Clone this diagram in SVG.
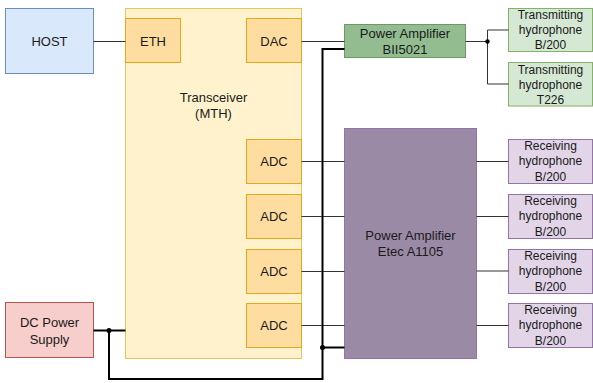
<svg xmlns="http://www.w3.org/2000/svg" width="593" height="383" viewBox="0 0 593 383">
<style>
text{font-family:"Liberation Sans",Arial,sans-serif;fill:#1a1a1a;text-anchor:middle;dominant-baseline:central}
.t13{font-size:13px}
.t12{font-size:12px}
.host{fill:#dae8fc;stroke:#6c8ebf}
.trx{fill:#fff2cc;stroke:#e6c55f}
.port{fill:#ffdda1;stroke:#e3a81c}
.pag{fill:#93bd91;stroke:#6d9a64}
.pap{fill:#9b8aa6;stroke:#9673a6}
.th{fill:#d5e8d4;stroke:#82b366}
.rh{fill:#e1d5e7;stroke:#9673a6}
.dc{fill:#f8cecc;stroke:#b85450}
.sig{fill:none;stroke:#333;stroke-width:1}
.pwr{fill:none;stroke:#000;stroke-width:2}
rect{stroke-width:1}
</style>
<g id="transceiver"><rect class="trx" x="125.5" y="8.5" width="176" height="350"/><text class="t13" x="213.5" y="97">Transceiver</text><text class="t13" x="213.5" y="113">(MTH)</text></g>
<g id="host"><rect class="host" x="5.5" y="8.5" width="88" height="65"/><text class="t13" x="49.5" y="41">HOST</text></g>
<g id="eth"><rect class="port" x="125.5" y="18.5" width="55" height="44"/><text class="t13" x="153" y="41">ETH</text></g>
<g id="dac"><rect class="port" x="246.5" y="18.5" width="55" height="44"/><text class="t13" x="274" y="41">DAC</text></g>
<g id="adc1"><rect class="port" x="246.5" y="139.5" width="55" height="44"/><text class="t13" x="274" y="161.5">ADC</text></g>
<g id="adc2"><rect class="port" x="246.5" y="194.5" width="55" height="44"/><text class="t13" x="274" y="216.5">ADC</text></g>
<g id="adc3"><rect class="port" x="246.5" y="249.5" width="55" height="44"/><text class="t13" x="274" y="271.5">ADC</text></g>
<g id="adc4"><rect class="port" x="246.5" y="303.5" width="55" height="44"/><text class="t13" x="274" y="325.5">ADC</text></g>
<g id="pa-bii"><rect class="pag" x="344.5" y="24.5" width="121" height="33"/><text class="t13" x="405" y="33">Power Amplifier</text><text class="t13" x="405" y="49.5">BII5021</text></g>
<g id="pa-etec"><rect class="pap" x="344.5" y="128.5" width="132" height="230"/><text class="t13" x="410.5" y="235.5">Power Amplifier</text><text class="t13" x="410.5" y="251.5">Etec A1105</text></g>
<g id="th1"><rect class="th" x="508.5" y="8.5" width="84" height="43"/><text class="t12" x="550.5" y="15">Transmitting</text><text class="t12" x="550.5" y="30">hydrophone</text><text class="t12" x="550.5" y="45">B/200</text></g>
<g id="th2"><rect class="th" x="508.5" y="62.5" width="84" height="43.5"/><text class="t12" x="550.5" y="69.5">Transmitting</text><text class="t12" x="550.5" y="84.5">hydrophone</text><text class="t12" x="550.5" y="99.5">T226</text></g>
<g id="rh1"><rect class="rh" x="508.5" y="139.5" width="84" height="44"/><text class="t12" x="550.5" y="146">Receiving</text><text class="t12" x="550.5" y="161">hydrophone</text><text class="t12" x="550.5" y="176.5">B/200</text></g>
<g id="rh2"><rect class="rh" x="508.5" y="194.5" width="84" height="44"/><text class="t12" x="550.5" y="201">Receiving</text><text class="t12" x="550.5" y="216">hydrophone</text><text class="t12" x="550.5" y="231.5">B/200</text></g>
<g id="rh3"><rect class="rh" x="508.5" y="249.5" width="84" height="44"/><text class="t12" x="550.5" y="256">Receiving</text><text class="t12" x="550.5" y="271">hydrophone</text><text class="t12" x="550.5" y="286.5">B/200</text></g>
<g id="rh4"><rect class="rh" x="508.5" y="303.5" width="84" height="44"/><text class="t12" x="550.5" y="310">Receiving</text><text class="t12" x="550.5" y="325">hydrophone</text><text class="t12" x="550.5" y="340.5">B/200</text></g>
<g id="dc"><rect class="dc" x="5.5" y="302.5" width="88" height="55"/><text class="t13" x="49.5" y="322">DC Power</text><text class="t13" x="49.5" y="339">Supply</text></g>
<g id="connectors">
<path class="sig" d="M93.5 41.5H125.5"/>
<path class="sig" d="M301.5 41.5H344.5"/>
<path class="sig" d="M465.5 41.5H487.5M487.5 30H508.5M487.5 30V84H508.5"/>
<circle cx="487.5" cy="41.5" r="2.2" fill="#000"/>
<path class="sig" d="M301.5 161.5H344.5M301.5 216.5H344.5M301.5 271.5H344.5M301.5 325.5H344.5"/>
<path class="sig" d="M476.5 161.5H508.5M476.5 216.5H508.5M476.5 271H508.5M476.5 325.5H508.5"/>
<path class="pwr" d="M93.5 330.5H125.5"/>
<path class="pwr" d="M109 330.5V379H322.5V49H344.5"/>
<path class="pwr" d="M322.5 347.5H344.5"/>
<circle cx="109" cy="330.5" r="2.5" fill="#000"/>
<circle cx="322.5" cy="347.5" r="2.5" fill="#000"/>
</g>
</svg>
